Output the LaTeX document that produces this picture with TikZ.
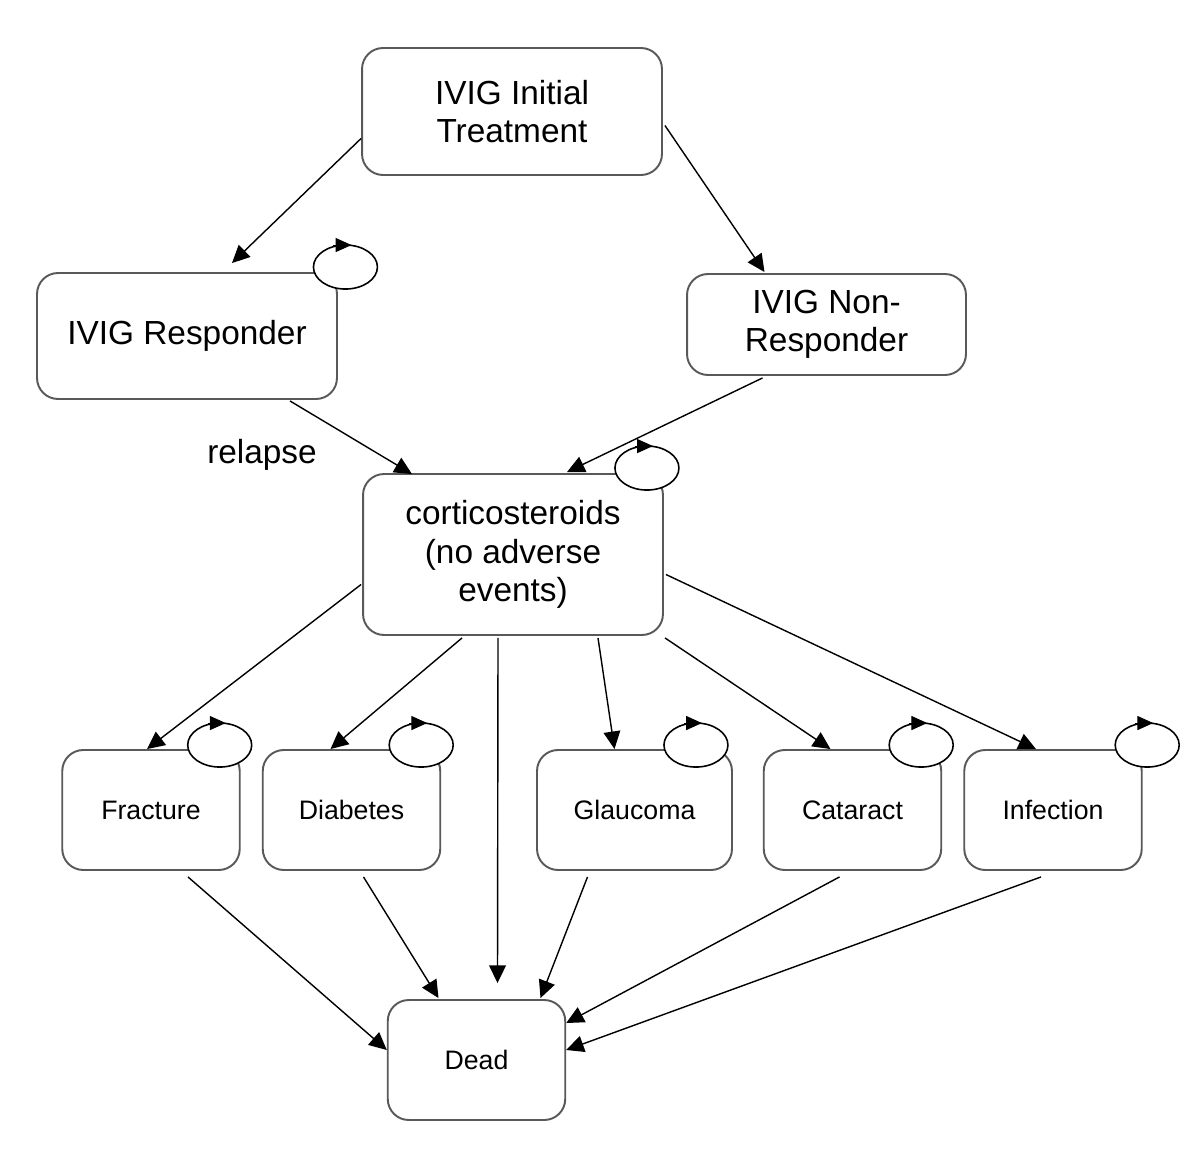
\documentclass[tikz,border=0pt]{standalone}
\usepackage{fontspec}
\setmainfont{Liberation Sans}
\usetikzlibrary{positioning, arrows.meta, calc}
\definecolor{cbord}{gray}{0.35}

\tikzset{
  bigbox/.style={draw=cbord, line width=1.1pt, rounded corners=0.42cm, fill=white,
    align=center, font=\fontsize{19}{21.8}\selectfont, inner sep=0pt},
  smallbox/.style={draw=cbord, line width=1.1pt, rounded corners=0.42cm, fill=white,
    minimum width=3.55cm, minimum height=2.4cm, inner sep=0pt,
    font=\fontsize{15.2}{17}\selectfont},
  flow/.style={black, line width=0.8pt, -{Triangle[length=10pt, width=9.5pt]}},
  loopline/.style={black, line width=0.9pt, fill=white},
  looptip/.style={black, line width=0.6pt, -{Triangle[length=9pt, width=8pt]}},
}

% boucle sur un etat : noeud, decalage x, decalage y du centre depuis le coin
\newcommand{\selfloop}[3]{%
  \draw[loopline] ($(#1.north east)+(#2,#3)$) ellipse [x radius=32, y radius=22];
  \draw[looptip] ($(#1.north east)+(#2-12,#3-22)$) -- ($(#1.north east)+(#2+6,#3-22)$);
}

\begin{document}
\begin{tikzpicture}[x=0.02cm, y=-0.02cm]
  \useasboundingbox (0,0) rectangle (1200,1172);

  % --- etats du traitement ---------------------------------------------
  \node[bigbox, minimum width=6cm, minimum height=2.54cm] (init) at (512,111.5)
       {IVIG Initial\\Treatment};
  \node[bigbox, minimum width=6cm, minimum height=2.52cm] (resp) at (187,336)
       {IVIG Responder};
  \node[bigbox, minimum width=5.58cm, minimum height=2.02cm] (nonresp) at (826.5,324.5)
       {IVIG Non-\\Responder};
  \node[bigbox, minimum width=6cm, minimum height=3.22cm] (cortico) at (513,554.5)
       {corticosteroids\\(no adverse\\events)};

  % --- evenements indesirables -----------------------------------------
  \node[smallbox] (frac) at (151,810) {Fracture};
  \node[smallbox] (diab) at (351.5,810) {Diabetes};
  \node[smallbox, minimum width=3.9cm] (glau) at (634.5,810) {Glaucoma};
  \node[smallbox] (cat) at (852.5,810) {Cataract};
  \node[smallbox] (inf) at (1053,810) {Infection};
  \node[smallbox] (dead) at (476.5,1060) {Dead};

  % --- transitions du haut ---------------------------------------------
  \draw[flow] ($(init.west)+(0,27)$) -- ($(resp.north)+(45,-9)$);
  \draw[flow] ($(init.east)+(2,14)$) -- ($(nonresp.north)+(-62,-1)$);
  \draw[flow] ($(resp.south)+(103,1)$) -- ($(cortico.north)+(-101,1)$);
  \draw[flow] ($(nonresp.south)+(-64,2)$) -- ($(cortico.north)+(54,-1)$);
  \node[font=\fontsize{19}{21.8}\selectfont] (relapse) at (262,455) {relapse};

  % --- corticoides vers les evenements ---------------------------------
  \draw[flow] ($(cortico.west)+(-1,30)$) -- ($(frac.north)+(-4,0)$);
  \draw[flow] ($(cortico.south)+(-51,2)$) -- ($(diab.north)+(-21,0)$);
  \draw[flow] ($(cortico.south)+(-15,2)$) -- ($(dead.north)+(21,-16)$);
  \draw[flow] ($(cortico.south)+(85,2)$) -- ($(glau.north)+(-20,0)$);
  \draw[flow] ($(cortico.south)+(152,2)$) -- ($(cat.north)+(-22,0)$);
  \draw[flow] ($(cortico.east)+(2,20)$) -- ($(inf.north)+(-17,0)$);

  % --- vers le deces ---------------------------------------------------
  \draw[flow] ($(frac.south)+(37,6)$) -- ($(dead.west)+(0,-10)$);
  \draw[flow] ($(diab.south)+(12,6)$) -- ($(dead.north)+(-38,-1)$);
  \draw[flow] ($(glau.south)+(-47,6)$) -- ($(dead.north)+(64,-1)$);
  \draw[flow] ($(cat.south)+(-13,6)$) -- ($(dead.east)+(0,-37)$);
  \draw[flow] ($(inf.south)+(-12,6)$) -- ($(dead.east)+(0,-10)$);

  % --- boucles sur soi -------------------------------------------------
  \selfloop{resp}{7.5}{-5}
  \selfloop{cortico}{-17}{-5}
  \selfloop{frac}{-21}{-4}
  \selfloop{diab}{-20}{-4}
  \selfloop{glau}{-37}{-4}
  \selfloop{cat}{-21}{-4}
  \selfloop{inf}{4.5}{-4}
\end{tikzpicture}
\end{document}
